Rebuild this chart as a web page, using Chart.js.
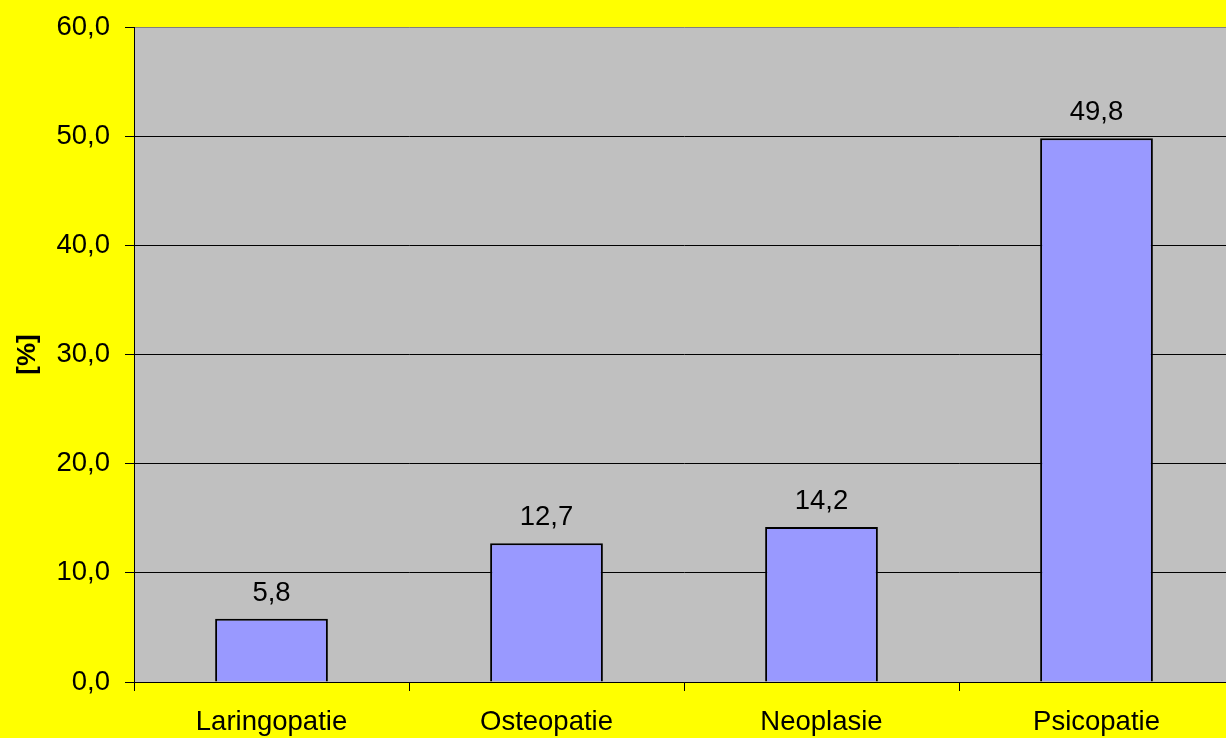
<!DOCTYPE html>
<html>
<head>
<meta charset="utf-8">
<script src="https://cdn.jsdelivr.net/npm/chart.js@4/dist/chart.umd.min.js"></script>
<style>
  html, body { margin: 0; padding: 0; background: #FFFF00; overflow: hidden; }
  #wrap { width: 1234px; height: 738px; }
</style>
</head>
<body>
<div id="wrap"><canvas id="c" width="1234" height="738"></canvas></div>
<script>
// Categories and percentages
const categories = ['Laringopatie', 'Osteopatie', 'Neoplasie', 'Psicopatie'];
const percentages = [5.8, 12.7, 14.2, 49.8];
const yTicks = [0, 10, 20, 30, 40, 50, 60];
const yTitle = '[%]';

const FONT = "'Liberation Sans', Arial, sans-serif";
const TEXT_SIZE = 27.5;
// Plot-area edges in canvas pixels
const PLOT_TOP = 27;
const PLOT_BOTTOM = 682;
const PLOT_LEFT = 134;
const fmt = v => Number(v).toFixed(1).replace('.', ',');

// Grey plot area and yellow page background
const plotBackground = {
  id: 'plotBackground',
  beforeDraw(chart) {
    const { ctx, chartArea: a } = chart;
    ctx.save();
    ctx.fillStyle = '#FFFF00';
    ctx.fillRect(0, 0, chart.width, chart.height);
    ctx.fillStyle = '#C0C0C0';
    ctx.fillRect(a.left, a.top, a.right - a.left, a.bottom - a.top);
    ctx.restore();
  }
};

// Value written above each bar
const valueLabels = {
  id: 'valueLabels',
  afterDatasetsDraw(chart) {
    const { ctx } = chart;
    ctx.save();
    ctx.font = TEXT_SIZE + 'px ' + FONT;
    ctx.fillStyle = '#000';
    ctx.textAlign = 'center';
    ctx.textBaseline = 'middle';
    chart.getDatasetMeta(0).data.forEach((bar, i) => {
      ctx.fillText(fmt(chart.data.datasets[0].data[i]), bar.x, bar.y - 25.5);
    });
    ctx.restore();
  }
};

new Chart(document.getElementById('c'), {
  type: 'bar',
  data: {
    labels: categories,
    datasets: [{
      data: percentages,
      backgroundColor: '#9999FF',
      borderColor: '#000000',
      borderWidth: 2,
      barPercentage: 0.41,
      categoryPercentage: 1.0
    }]
  },
  options: {
    responsive: false,
    animation: false,
    devicePixelRatio: 1,
    layout: { padding: { top: PLOT_TOP, right: 0, left: 0, bottom: 0 } },
    plugins: {
      legend: { display: false },
      tooltip: { enabled: false }
    },
    scales: {
      x: {
        type: 'category',
        offset: true,
        border: { display: true, color: '#000', width: 1 },
        grid: {
          offset: true,
          drawOnChartArea: false,
          drawTicks: true,
          tickLength: 9,
          tickColor: '#000',
          tickWidth: 1
        },
        ticks: {
          color: '#000',
          font: { family: FONT, size: TEXT_SIZE },
          padding: 14.5,
          maxRotation: 0,
          autoSkip: false
        },
        afterFit(scale) {
          scale.height = 738 - PLOT_BOTTOM;
          scale.paddingLeft = 0;
          scale.paddingRight = 0;
        }
      },
      y: {
        min: 0,
        max: 60,
        afterBuildTicks(scale) { scale.ticks = yTicks.map(v => ({ value: v })); },
        border: { display: true, color: '#000', width: 1 },
        grid: {
          color: ctx => (ctx.tick && ctx.tick.value === 60 ? '#808080' : '#000'),
          lineWidth: 1,
          drawTicks: true,
          tickLength: 9,
          tickColor: '#000'
        },
        ticks: {
          color: '#000',
          font: { family: FONT, size: TEXT_SIZE },
          padding: 15,
          callback: v => fmt(v)
        },
        title: {
          display: true,
          text: yTitle,
          color: '#000',
          font: { family: FONT, size: 26, weight: 'bold' },
          padding: { top: 12, bottom: 0 }
        },
        afterFit(scale) {
          scale.width = PLOT_LEFT;
          // tick labels may overhang the plot edges; they must not shrink it
          scale.paddingTop = 0;
          scale.paddingBottom = 0;
        }
      }
    }
  },
  plugins: [plotBackground, valueLabels]
});
</script>
</body>
</html>
